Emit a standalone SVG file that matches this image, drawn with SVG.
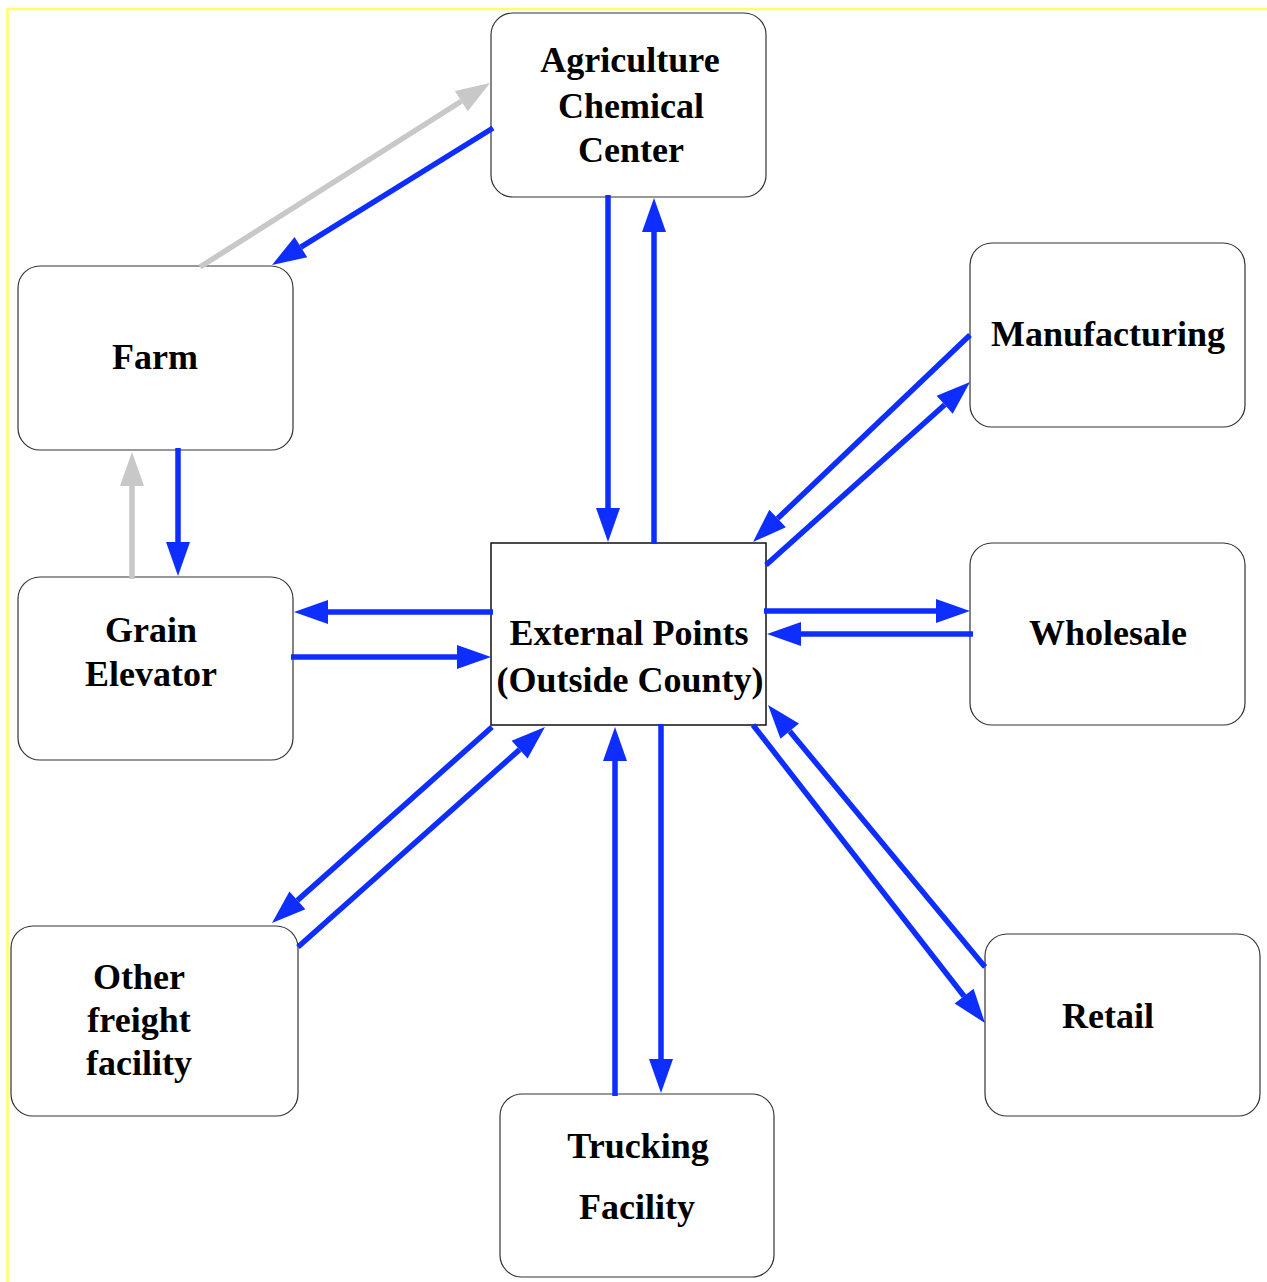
<svg xmlns="http://www.w3.org/2000/svg" width="1267" height="1282" viewBox="0 0 1267 1282">
<style>
.box{fill:#fff;stroke:#333;stroke-width:1.2}
.ext{fill:#fff;stroke:#111;stroke-width:1.5}
.t{font-family:"Liberation Serif","Times New Roman",serif;font-weight:bold;font-size:36px;fill:#000;text-anchor:middle}
.b{stroke:#0d2eff;stroke-width:5.5;fill:none;marker-end:url(#ab)}
.g{stroke:#c8c8c8;stroke-width:5.5;fill:none;marker-end:url(#ag)}
</style>
<defs>
<marker id="ab" markerUnits="userSpaceOnUse" markerWidth="36" markerHeight="26" refX="0" refY="12" orient="auto" overflow="visible"><path d="M0,0 L34,12 L0,24 z" fill="#0d2eff"/></marker>
<marker id="ag" markerUnits="userSpaceOnUse" markerWidth="36" markerHeight="26" refX="0" refY="12" orient="auto" overflow="visible"><path d="M0,0 L34,12 L0,24 z" fill="#c8c8c8"/></marker>
</defs>
<rect width="1267" height="1282" fill="#fff"/>
<path d="M7.5,1282 V9 H1267" fill="none" stroke="#ffff66" stroke-width="2.5"/>
<g id="agri"><rect class="box" x="491" y="13" width="275" height="184" rx="22"/><text class="t" x="630" y="72">Agriculture</text><text class="t" x="631" y="118">Chemical</text><text class="t" x="631" y="162">Center</text></g>
<g id="farm"><rect class="box" x="18" y="266" width="275" height="184" rx="22"/><text class="t" x="155" y="369">Farm</text></g>
<g id="grain"><rect class="box" x="18" y="577" width="275" height="183" rx="22"/><text class="t" x="151" y="642">Grain</text><text class="t" x="151" y="686">Elevator</text></g>
<g id="external"><rect class="ext" x="491" y="543" width="275" height="182"/><text class="t" x="629" y="645">External Points</text><text class="t" x="630" y="692">(Outside County)</text></g>
<g id="manufacturing"><rect class="box" x="970" y="243" width="275" height="184" rx="22"/><text class="t" x="1108" y="346">Manufacturing</text></g>
<g id="wholesale"><rect class="box" x="970" y="543" width="275" height="182" rx="22"/><text class="t" x="1108" y="645">Wholesale</text></g>
<g id="other"><rect class="box" x="11" y="926" width="287" height="190" rx="22"/><text class="t" x="139" y="989">Other</text><text class="t" x="139" y="1032">freight</text><text class="t" x="139" y="1075">facility</text></g>
<g id="trucking"><rect class="box" x="500" y="1094" width="274" height="183" rx="22"/><text class="t" x="638" y="1158">Trucking</text><text class="t" x="637" y="1219">Facility</text></g>
<g id="retail"><rect class="box" x="985" y="934" width="275" height="182" rx="22"/><text class="t" x="1108" y="1028">Retail</text></g>
<g id="connectors">
<path class="g" d="M200,267 L461.3,101.2"/>
<path class="b" d="M493,128 L300.9,247.1"/>
<path class="b" d="M608,195 L608,508"/>
<path class="b" d="M654,544 L654,232"/>
<path class="b" d="M970,335 L777.6,518.5"/>
<path class="b" d="M766,565 L944.7,404.7"/>
<path class="b" d="M764,611 L936,611"/>
<path class="b" d="M973,634 L801,634"/>
<path class="b" d="M493,612 L328,612"/>
<path class="b" d="M291,657 L457,657"/>
<path class="g" d="M132,579 L132,486"/>
<path class="b" d="M178,448 L178,542"/>
<path class="b" d="M492,727 L297.4,900.4"/>
<path class="b" d="M298,947 L519.6,749.6"/>
<path class="b" d="M615,1096 L615,761"/>
<path class="b" d="M661,724 L661,1059"/>
<path class="b" d="M753,725 L964.1,996.2"/>
<path class="b" d="M985,967 L789.7,731.2"/>
</g>
</svg>
